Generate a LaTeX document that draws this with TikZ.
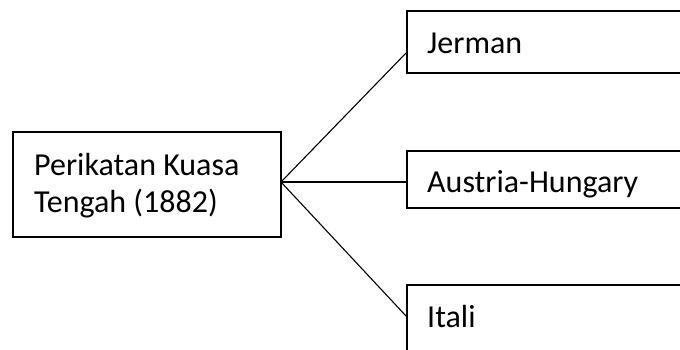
\documentclass[tikz,border=0pt]{standalone}
\usepackage{fontspec}
\setmainfont{Carlito}
\begin{document}
\begin{tikzpicture}[x=1pt,y=-1pt,
  boxline/.style={draw=black,line width=1.3pt},
  conn/.style={draw=black,line width=1.1pt},
  lbl/.style={anchor=base west,inner sep=0pt,font=\fontsize{32}{38}\selectfont}]
\useasboundingbox (0,0) rectangle (680,349);
\clip (0,0) rectangle (680,349);
% left box
\draw[boxline] (13,132) rectangle (281,237);
\coordinate (src) at (281,182);
\node[lbl] (t1) at (34,175) {Perikatan Kuasa};
\node[lbl] (t2) at (34,212) {Tengah (1882)};
% right boxes
\draw[boxline] (690,11) -- (407,11) -- (407,73) -- (690,73);
\draw[boxline] (690,151) -- (407,151) -- (407,208) -- (690,208);
\draw[boxline] (690,285) -- (407,285) -- (407,360);
\coordinate (jer) at (407,52);
\coordinate (aus) at (407,182);
\coordinate (ita) at (407,317);
\node[lbl] (j) at (427,53) {Jerman};
\node[lbl] (a) at (427,192) {Austria-Hungary};
\node[lbl] (i) at (427,327) {Itali};
\draw[conn] (src) -- (jer);
\draw[conn] (src) -- (aus);
\draw[conn] (src) -- (ita);
\end{tikzpicture}
\end{document}
